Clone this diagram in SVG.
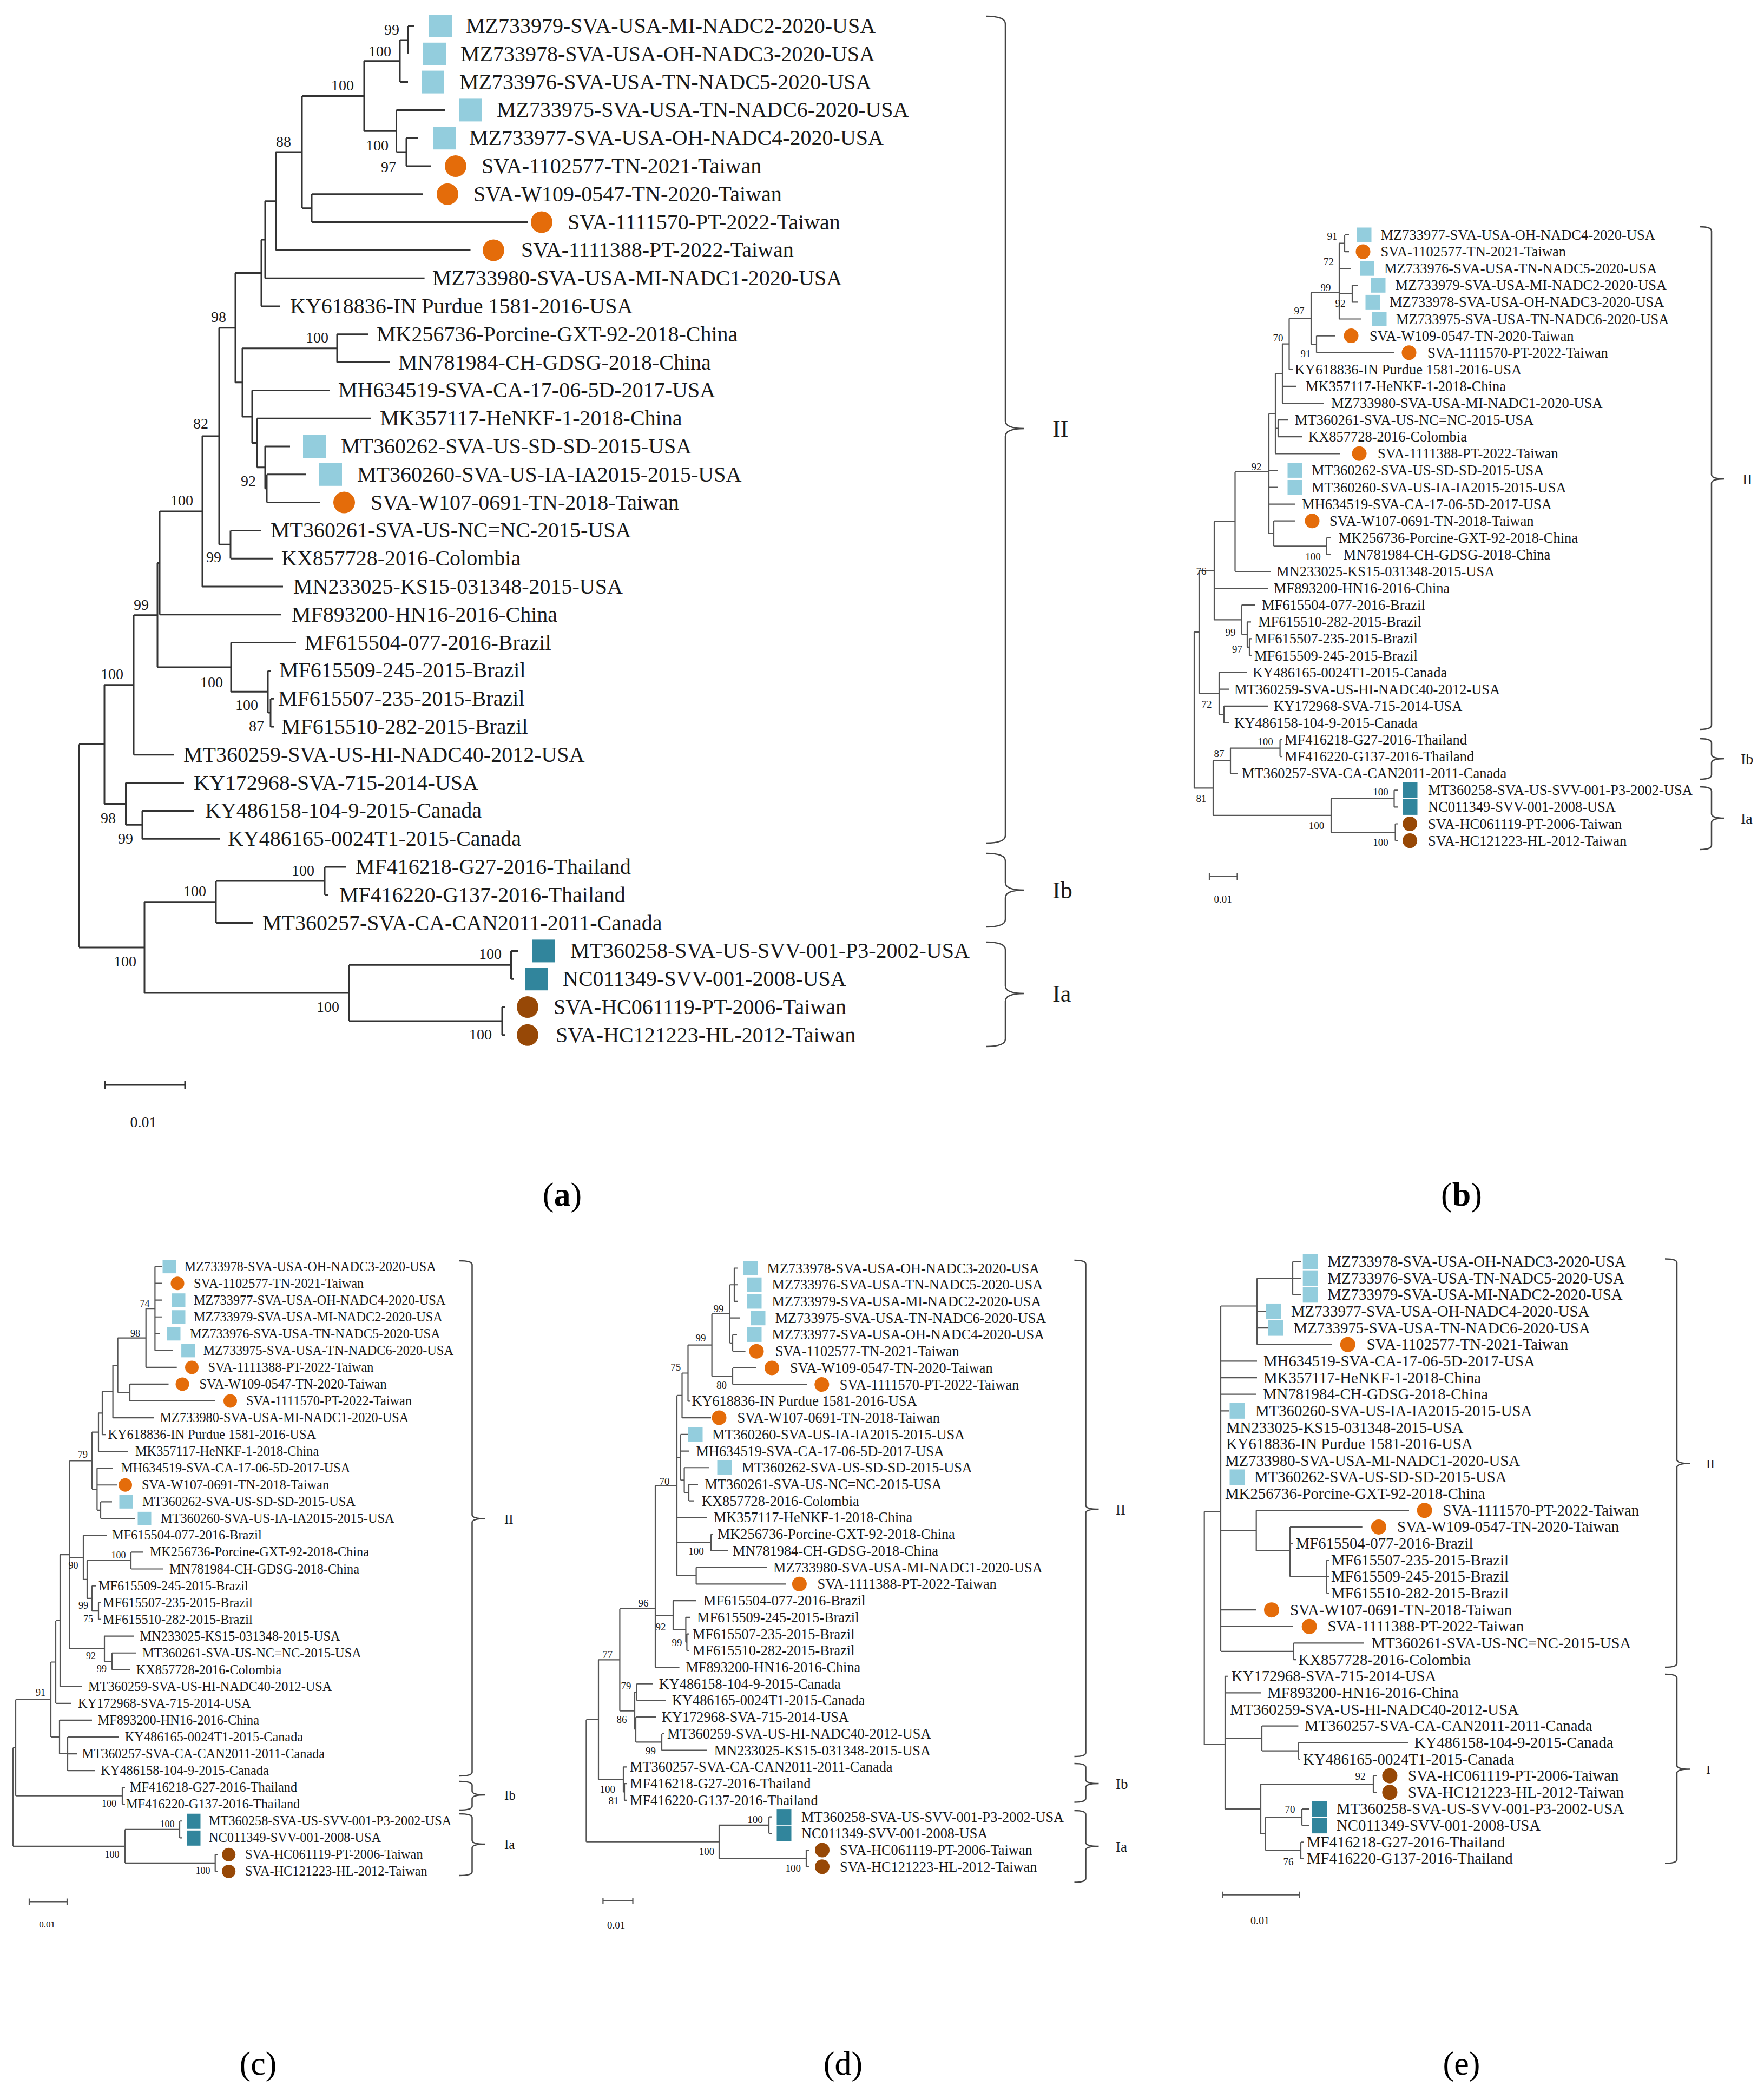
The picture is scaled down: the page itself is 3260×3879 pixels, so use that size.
<svg xmlns="http://www.w3.org/2000/svg" width="3260" height="3879" viewBox="0 0 3260 3879">
<style>
.br{fill:none;stroke:#333;stroke-width:3}
.br2{fill:none;stroke:#555;stroke-width:2.2}
.brk{fill:none;stroke:#444;stroke-width:2.5}
text{font-family:"Liberation Serif","Times New Roman",serif;fill:#1a1a1a}
.a{font-size:40px}.b{font-size:26.5px}.c{font-size:24.3px}.d{font-size:26.3px}.e{font-size:28.8px}
.bs{fill:#444;text-anchor:middle}
.bsa{font-size:28px}.bsb{font-size:19px}.bsc{font-size:18px}
.sq{fill:#93CDDD}.ci{fill:#E46C0A}.dsq{fill:#31859C}.dci{fill:#974806}
.pl{font-size:62px;text-anchor:middle;fill:#000}
</style>
<rect width="3260" height="3879" fill="#fff"/>

<!-- ===== connectors ===== -->
<g id="connectors">
<path id="a-edges" class="br" d="M754,48V99.8 M739,73.9V151.6 M751,255.2V307 M732.5,203.4V281.1 M673,112.75V242.25 M576,358.8V410.6 M558,177.5V384.7 M509.5,281.1V462.4 M490,371.75V514.2 M483,443V566 M623,617.8V669.6 M493,876.8V928.6 M490,825V902.7 M475,773.2V863.85 M466,721.4V818.5 M448,643.7V770 M435,504.5V706.85 M426,980.4V1032.2 M405,605.7V1006.3 M374,806V1084 M295,945V1135.8 M500,1291.2V1343 M495,1239.4V1317.1 M427,1187.6V1278.25 M291,1040.4V1232.9 M247,1136.65V1394.8 M263,1498.4V1550.2 M232.5,1446.6V1524.3 M193,1265.7V1485.45 M600,1602V1653.8 M399,1627.9V1705.6 M944.5,1757.4V1809.2 M928,1861V1912.8 M645,1783.3V1886.9 M267,1666.75V1835.1 M146,1375.6V1750.9
M754,48H766 M739,73.9H754 M739,151.6H754 M751,255.2H772 M751,307H797 M732.5,203.4H823 M732.5,281.1H751 M673,112.75H739 M673,242.25H732.5 M576,358.8H782 M576,410.6H975 M558,177.5H673 M558,384.7H576 M509.5,281.1H558 M509.5,462.4H869.5 M490,371.75H509.5 M490,514.2H784.6 M483,443H490 M483,566H518 M623,617.8H680 M623,669.6H720 M493,876.8H566 M493,928.6H591 M490,825H536 M490,902.7H493 M475,773.2H686 M475,863.85H490 M466,721.4H609 M466,818.5H475 M448,643.7H623 M448,770H466 M435,504.5H483 M435,706.85H448 M426,980.4H482 M426,1032.2H505 M405,605.7H435 M405,1006.3H426 M374,806H405 M374,1084H523 M295,945H374 M295,1135.8H520 M500,1291.2H506 M500,1343H506 M495,1239.4H501 M495,1317.1H500 M427,1187.6H547 M427,1278.25H495 M291,1040.4H295 M291,1232.9H427 M247,1136.65H291 M247,1394.8H322 M263,1498.4H359 M263,1550.2H406 M232.5,1446.6H340 M232.5,1524.3H263 M193,1265.7H247 M193,1485.45H232.5 M600,1602H639 M600,1653.8H606 M399,1627.9H600 M399,1705.6H467 M944.5,1757.4H957 M944.5,1809.2H949 M928,1861H933 M928,1912.8H933 M645,1783.3H944.5 M645,1886.9H928 M267,1666.75H399 M267,1835.1H645 M146,1375.6H193 M146,1750.9H267"/>
<path id="b-edges" class="br2" d="M2485,434V465.1 M2499,527.3V558.4 M2475,449.55V589.5 M2433,620.6V651.7 M2423,541V636.15 M2382.5,588.6V682.8 M2370,635.7V745 M2362,776.1V807.2 M2357,690.35V838.3 M2451.5,993.8V1024.9 M2354,962.7V1009.35 M2345,764.3V986 M2282.5,872V1056 M2309,1180.4V1211.5 M2305,1149.3V1195.95 M2294.6,1118.2V1172.6 M2244,964V1145.4 M2262,1304.8V1335.9 M2253,1242.6V1320.35 M2216,1054.7V1281.5 M2365.6,1367V1398.1 M2274,1382.55V1429.2 M2576.5,1460.3V1491.4 M2578.6,1522.5V1553.6 M2460,1475.85V1538.05 M2242,1405.9V1506.95 M2207,1168.1V1456.4
M2485,434H2493 M2485,465.1H2493 M2499,527.3H2510 M2499,558.4H2510 M2475,449.55H2485 M2475,496.2H2497 M2475,542.85H2499 M2475,589.5H2516 M2433,620.6H2467 M2433,651.7H2577 M2423,541H2475 M2423,636.15H2433 M2382.5,588.6H2423 M2382.5,682.8H2390 M2370,635.7H2382.5 M2370,713.9H2396 M2370,745H2447 M2362,776.1H2381 M2362,807.2H2406 M2357,690.35H2370 M2357,791.65H2362 M2357,838.3H2477 M2451.5,993.8H2460 M2451.5,1024.9H2460 M2354,962.7H2393 M2354,1009.35H2451.5 M2345,764.3H2357 M2345,869.4H2362 M2345,900.5H2362 M2345,931.6H2393 M2345,986H2354 M2282.5,872H2345 M2282.5,1056H2349 M2309,1180.4H2313 M2309,1211.5H2313 M2305,1149.3H2312 M2305,1195.95H2309 M2294.6,1118.2H2320 M2294.6,1172.6H2305 M2244,964H2282.5 M2244,1087.1H2343 M2244,1145.4H2294.6 M2262,1304.8H2343 M2262,1335.9H2271 M2253,1242.6H2305 M2253,1273.7H2271 M2253,1320.35H2262 M2216,1054.7H2244 M2216,1281.5H2253 M2365.6,1367H2370 M2365.6,1398.1H2370 M2274,1382.55H2365.6 M2274,1429.2H2287 M2576.5,1460.3H2583 M2576.5,1491.4H2583 M2578.6,1522.5H2584 M2578.6,1553.6H2584 M2460,1475.85H2576.5 M2460,1538.05H2578.6 M2242,1405.9H2274 M2242,1506.95H2460 M2207,1168.1H2216 M2207,1456.4H2242"/>
<path id="c-edges" class="br2" d="M286.4,2340.6V2495.85 M269.7,2418.2V2526.9 M240,2557.95V2589 M217.6,2472.55V2573.5 M208.6,2523V2620.05 M189,2571.5V2651.1 M182,2611.3V2682.15 M186,2775.3V2806.35 M179.4,2713.2V2790.8 M170,2646.7V2752 M242,2868.45V2899.5 M182,2961.6V2992.65 M170,2930.55V2977.1 M161,2884V2953.8 M154,2837.4V2918.9 M207,3054.75V3085.8 M193,3023.7V3070.3 M128.6,2699.35V3047 M111,2873.2V3116.85 M103,2995V3147.9 M125,3210V3272.1 M110,3178.95V3241 M94,3071.5V3210 M226,3303.15V3334.2 M29,3140.75V3318.7 M332,3365.25V3396.3 M397.7,3427.35V3458.4 M231,3380.8V3442.9 M24,3229.7V3411.85
M286.4,2340.6H300 M286.4,2371.65H300 M286.4,2402.7H300 M286.4,2433.75H300 M286.4,2464.8H295.5 M286.4,2495.85H320 M269.7,2418.2H286.4 M269.7,2526.9H326.7 M240,2557.95H311.5 M240,2589H397.7 M217.6,2472.55H269.7 M217.6,2573.5H240 M208.6,2523H217.6 M208.6,2620.05H285 M189,2571.5H208.6 M189,2651.1H196 M182,2611.3H189 M182,2682.15H236 M186,2775.3H207 M186,2806.35H250 M179.4,2713.2H208.6 M179.4,2744.25H217 M179.4,2790.8H186 M170,2646.7H182 M170,2752H179.4 M242,2868.45H264 M242,2899.5H302 M182,2961.6H186 M182,2992.65H186 M170,2930.55H178 M170,2977.1H182 M161,2884H242 M161,2953.8H170 M154,2837.4H198 M154,2918.9H161 M207,3054.75H251.7 M207,3085.8H240 M193,3023.7H247 M193,3070.3H207 M128.6,2699.35H170 M128.6,2878.15H154 M128.6,3047H193 M111,2873.2H128.6 M111,3116.85H151.6 M103,2995H111 M103,3147.9H132 M125,3210H219 M125,3241.05H142.5 M125,3272.1H175 M110,3178.95H170 M110,3241H125 M94,3071.5H103 M94,3210H110 M226,3303.15H231 M226,3334.2H231 M29,3140.75H94 M29,3318.7H226 M332,3365.25H337 M332,3396.3H337 M397.7,3427.35H403 M397.7,3458.4H403 M231,3380.8H332 M231,3442.9H397.7 M24,3229.7H29 M24,3411.85H231"/>
<path id="d-edges" class="br2" d="M1357,2343.5V2404.96 M1354,2466.42V2497.15 M1348.6,2374.23V2481.8 M1354,2527.88V2558.61 M1315.6,2428V2543.25 M1271.5,2485.6V2589.34 M1260.5,2537.5V2620.07 M1273,2742.99V2773.72 M1264.6,2712.26V2758.35 M1257.7,2650.8V2735.3 M1314,2835.18V2865.91 M1286.6,2896.64V2927.37 M1251,2578.8V2912 M1269.4,3019.56V3050.29 M1267.4,2988.83V3034.9 M1244,2958.1V3011.9 M1211,2745.4V3081.02 M1176.4,3111.75V3142.48 M1223,3203.94V3234.67 M1175,3173.21V3219.3 M1173,3127.1V3196.25 M1145.4,2973V3161.7 M1154,3296.13V3326.86 M1152,3265.4V3311.5 M1106,3067.35V3288.45 M1421,3357.59V3388.32 M1490,3419.05V3449.78 M1329,3372.95V3434.4 M1083.4,3177.9V3403.7
M1357,2343.5H1364 M1357,2374.23H1364 M1357,2404.96H1364 M1354,2466.42H1362 M1354,2497.15H1377.6 M1348.6,2374.23H1357 M1348.6,2435.69H1368 M1348.6,2481.8H1354 M1354,2527.88H1398 M1354,2558.61H1492 M1315.6,2428H1348.6 M1315.6,2543.25H1354 M1271.5,2485.6H1315.6 M1271.5,2589.34H1275 M1260.5,2537.5H1271.5 M1260.5,2620.07H1314 M1273,2742.99H1290 M1273,2773.72H1283 M1264.6,2712.26H1310.7 M1264.6,2758.35H1273 M1257.7,2650.8H1271 M1257.7,2681.53H1273 M1257.7,2735.3H1264.6 M1314,2835.18H1318 M1314,2865.91H1345 M1286.6,2896.64H1417.5 M1286.6,2927.37H1452 M1251,2578.8H1260.5 M1251,2693H1257.7 M1251,2804.45H1307 M1251,2850.5H1314 M1251,2912H1286.6 M1269.4,3019.56H1274 M1269.4,3050.29H1274 M1267.4,2988.83H1276 M1267.4,3034.9H1269.4 M1244,2958.1H1286.6 M1244,3011.9H1267.4 M1211,2745.4H1251 M1211,2985H1244 M1211,3081.02H1255.6 M1176.4,3111.75H1207 M1176.4,3142.48H1230 M1223,3203.94H1227 M1223,3234.67H1307 M1175,3173.21H1212 M1175,3219.3H1223 M1173,3127.1H1176.4 M1173,3196.25H1175 M1145.4,2973H1211 M1145.4,3161.7H1173 M1154,3296.13H1158 M1154,3326.86H1158 M1152,3265.4H1158 M1152,3311.5H1154 M1106,3067.35H1145.4 M1106,3288.45H1152 M1421,3357.59H1426 M1421,3388.32H1426 M1490,3419.05H1495 M1490,3449.78H1495 M1329,3372.95H1421 M1329,3434.4H1490 M1083.4,3177.9H1106 M1083.4,3403.7H1329"/>
<path id="e-edges" class="br2" d="M2389,2331.5V2392.8 M2323,2362.15V2484.75 M2256,2413.5V3051.8 M2451.5,2883.2V2944.5 M2384,2821.9V2913.85 M2321.7,2791.25V2866 M2390.6,3036.45V3067.1 M2399.4,3220.35V3251 M2332,3189.7V3235.7 M2538,3281.65V3312.3 M2406,3342.95V3373.6 M2404,3404.25V3434.9 M2338.6,3358.3V3419.6 M2330,3297V3389 M2264,3097.75V3343 M2225.7,2793.6V3224
M2389,2331.5H2405 M2389,2362.15H2405 M2389,2392.8H2405 M2323,2362.15H2389 M2323,2423.45H2340 M2323,2454.1H2344 M2323,2484.75H2462 M2256,2413.5H2323 M2256,2515.4H2323 M2256,2546.05H2323 M2256,2576.7H2321.7 M2256,2607.35H2272 M2451.5,2883.2H2456 M2451.5,2913.85H2456 M2451.5,2944.5H2456 M2384,2821.9H2517.7 M2384,2852.55H2390 M2384,2913.85H2451.5 M2321.7,2791.25H2604 M2321.7,2866H2384 M2256,2828.6H2321.7 M2256,2975.15H2321.7 M2256,3005.8H2389 M2390.6,3036.45H2521 M2390.6,3067.1H2395 M2256,3051.8H2390.6 M2399.4,3220.35H2602 M2399.4,3251H2403 M2332,3189.7H2399.4 M2332,3235.7H2399.4 M2538,3281.65H2544 M2538,3312.3H2544 M2406,3342.95H2420 M2406,3373.6H2420 M2404,3404.25H2409 M2404,3434.9H2409 M2338.6,3358.3H2406 M2338.6,3419.6H2404 M2330,3297H2538 M2330,3389H2338.6 M2264,3097.75H2270 M2264,3128.4H2330 M2264,3212.7H2332 M2264,3343H2330 M2225.7,2793.6H2256 M2225.7,3224H2264"/>
</g>

<!-- ===== panel a nodes ===== -->
<g id="panel-a">
<g id="a1"><rect class="sq" x="793" y="27" width="42" height="42"/><text class="a" x="861" y="61">MZ733979-SVA-USA-MI-NADC2-2020-USA</text></g>
<g id="a2"><rect class="sq" x="782" y="78.8" width="42" height="42"/><text class="a" x="851" y="112.8">MZ733978-SVA-USA-OH-NADC3-2020-USA</text></g>
<g id="a3"><rect class="sq" x="779" y="130.6" width="42" height="42"/><text class="a" x="849" y="164.6">MZ733976-SVA-USA-TN-NADC5-2020-USA</text></g>
<g id="a4"><rect class="sq" x="848" y="182.4" width="42" height="42"/><text class="a" x="918" y="216.4">MZ733975-SVA-USA-TN-NADC6-2020-USA</text></g>
<g id="a5"><rect class="sq" x="800" y="234.2" width="42" height="42"/><text class="a" x="867" y="268.2">MZ733977-SVA-USA-OH-NADC4-2020-USA</text></g>
<g id="a6"><circle class="ci" cx="842" cy="307" r="20"/><text class="a" x="890" y="320">SVA-1102577-TN-2021-Taiwan</text></g>
<g id="a7"><circle class="ci" cx="827" cy="358.8" r="20"/><text class="a" x="875" y="371.8">SVA-W109-0547-TN-2020-Taiwan</text></g>
<g id="a8"><circle class="ci" cx="1001" cy="410.6" r="20"/><text class="a" x="1049" y="423.6">SVA-1111570-PT-2022-Taiwan</text></g>
<g id="a9"><circle class="ci" cx="912" cy="462.4" r="20"/><text class="a" x="963" y="475.4">SVA-1111388-PT-2022-Taiwan</text></g>
<g id="a10"><text class="a" x="799" y="527.2">MZ733980-SVA-USA-MI-NADC1-2020-USA</text></g>
<g id="a11"><text class="a" x="536" y="579">KY618836-IN Purdue 1581-2016-USA</text></g>
<g id="a12"><text class="a" x="696" y="630.8">MK256736-Porcine-GXT-92-2018-China</text></g>
<g id="a13"><text class="a" x="736" y="682.6">MN781984-CH-GDSG-2018-China</text></g>
<g id="a14"><text class="a" x="625" y="734.4">MH634519-SVA-CA-17-06-5D-2017-USA</text></g>
<g id="a15"><text class="a" x="702" y="786.2">MK357117-HeNKF-1-2018-China</text></g>
<g id="a16"><rect class="sq" x="560" y="804" width="42" height="42"/><text class="a" x="630" y="838">MT360262-SVA-US-SD-SD-2015-USA</text></g>
<g id="a17"><rect class="sq" x="590" y="855.8" width="42" height="42"/><text class="a" x="660" y="889.8">MT360260-SVA-US-IA-IA2015-2015-USA</text></g>
<g id="a18"><circle class="ci" cx="636" cy="928.6" r="20"/><text class="a" x="685" y="941.6">SVA-W107-0691-TN-2018-Taiwan</text></g>
<g id="a19"><text class="a" x="500" y="993.4">MT360261-SVA-US-NC=NC-2015-USA</text></g>
<g id="a20"><text class="a" x="520" y="1045.2">KX857728-2016-Colombia</text></g>
<g id="a21"><text class="a" x="542" y="1097">MN233025-KS15-031348-2015-USA</text></g>
<g id="a22"><text class="a" x="539" y="1148.8">MF893200-HN16-2016-China</text></g>
<g id="a23"><text class="a" x="563" y="1200.6">MF615504-077-2016-Brazil</text></g>
<g id="a24"><text class="a" x="516" y="1252.4">MF615509-245-2015-Brazil</text></g>
<g id="a25"><text class="a" x="514" y="1304.2">MF615507-235-2015-Brazil</text></g>
<g id="a26"><text class="a" x="520" y="1356">MF615510-282-2015-Brazil</text></g>
<g id="a27"><text class="a" x="339" y="1407.8">MT360259-SVA-US-HI-NADC40-2012-USA</text></g>
<g id="a28"><text class="a" x="358" y="1459.6">KY172968-SVA-715-2014-USA</text></g>
<g id="a29"><text class="a" x="379" y="1511.4">KY486158-104-9-2015-Canada</text></g>
<g id="a30"><text class="a" x="421" y="1563.2">KY486165-0024T1-2015-Canada</text></g>
<g id="a31"><text class="a" x="657" y="1615">MF416218-G27-2016-Thailand</text></g>
<g id="a32"><text class="a" x="627" y="1666.8">MF416220-G137-2016-Thailand</text></g>
<g id="a33"><text class="a" x="485" y="1718.6">MT360257-SVA-CA-CAN2011-2011-Canada</text></g>
<g id="a34"><rect class="dsq" x="983" y="1736.4" width="42" height="42"/><text class="a" x="1054" y="1770.4">MT360258-SVA-US-SVV-001-P3-2002-USA</text></g>
<g id="a35"><rect class="dsq" x="971" y="1788.2" width="42" height="42"/><text class="a" x="1040" y="1822.2">NC011349-SVV-001-2008-USA</text></g>
<g id="a36"><circle class="dci" cx="975" cy="1861" r="20"/><text class="a" x="1023" y="1874">SVA-HC061119-PT-2006-Taiwan</text></g>
<g id="a37"><circle class="dci" cx="975" cy="1912.8" r="20"/><text class="a" x="1027" y="1925.8">SVA-HC121223-HL-2012-Taiwan</text></g>
<g id="a-boot" class="bs bsa">
<text x="724" y="64">99</text><text x="702" y="104">100</text><text x="633" y="167">100</text><text x="697" y="278">100</text><text x="718" y="318">97</text><text x="524" y="271">88</text><text x="404" y="595">98</text><text x="586" y="633">100</text><text x="459" y="898">92</text><text x="371" y="792">82</text><text x="395" y="1039">99</text><text x="336" y="934">100</text><text x="261" y="1127">99</text><text x="391" y="1270">100</text><text x="456" y="1312">100</text><text x="474" y="1351">87</text><text x="207" y="1255">100</text><text x="200" y="1521">98</text><text x="232" y="1559">99</text><text x="231" y="1786">100</text><text x="360" y="1656">100</text><text x="560" y="1618">100</text><text x="606" y="1870">100</text><text x="906" y="1772">100</text><text x="888" y="1921">100</text>
</g>
<g id="a-clades">
<path class="brk" d="M1822,30 Q1858,30 1858,44 V778 Q1858,792 1893,792 Q1858,792 1858,806 V1544 Q1858,1558 1822,1558"/>
<path class="brk" d="M1822,1577 Q1858,1577 1858,1591 V1631 Q1858,1645 1893,1645 Q1858,1645 1858,1659 V1699 Q1858,1713 1822,1713"/>
<path class="brk" d="M1822,1741 Q1858,1741 1858,1755 V1822 Q1858,1836 1893,1836 Q1858,1836 1858,1850 V1920 Q1858,1934 1822,1934"/>
<text x="1945" y="807" font-size="44">II</text><text x="1945" y="1660" font-size="44">Ib</text><text x="1945" y="1851" font-size="44">Ia</text>
</g>
<g id="a-scale"><path class="br" d="M194,2005H342 M194,1997V2013 M342,1997V2013"/><text x="265" y="2083" font-size="28" text-anchor="middle">0.01</text></g>
<text class="pl" x="1039" y="2228">(<tspan font-weight="bold">a</tspan>)</text>
</g>

<!-- ===== panel b nodes ===== -->
<g id="panel-b">
<g id="b1"><rect class="sq" x="2507.5" y="420.5" width="27" height="27"/><text class="b" x="2551.5" y="443">MZ733977-SVA-USA-OH-NADC4-2020-USA</text></g>
<g id="b2"><circle class="ci" cx="2519" cy="465.1" r="13.5"/><text class="b" x="2551.5" y="474.1">SVA-1102577-TN-2021-Taiwan</text></g>
<g id="b3"><rect class="sq" x="2513" y="482.7" width="27" height="27"/><text class="b" x="2558" y="505.2">MZ733976-SVA-USA-TN-NADC5-2020-USA</text></g>
<g id="b4"><rect class="sq" x="2533.5" y="513.8" width="27" height="27"/><text class="b" x="2578.6" y="536.3">MZ733979-SVA-USA-MI-NADC2-2020-USA</text></g>
<g id="b5"><rect class="sq" x="2523.5" y="544.9" width="27" height="27"/><text class="b" x="2568" y="567.4">MZ733978-SVA-USA-OH-NADC3-2020-USA</text></g>
<g id="b6"><rect class="sq" x="2535.5" y="576" width="27" height="27"/><text class="b" x="2580" y="598.5">MZ733975-SVA-USA-TN-NADC6-2020-USA</text></g>
<g id="b7"><circle class="ci" cx="2497" cy="620.6" r="13.5"/><text class="b" x="2531" y="629.6">SVA-W109-0547-TN-2020-Taiwan</text></g>
<g id="b8"><circle class="ci" cx="2604" cy="651.7" r="13.5"/><text class="b" x="2638" y="660.7">SVA-1111570-PT-2022-Taiwan</text></g>
<g id="b9"><text class="b" x="2392.7" y="691.8">KY618836-IN Purdue 1581-2016-USA</text></g>
<g id="b10"><text class="b" x="2413" y="722.9">MK357117-HeNKF-1-2018-China</text></g>
<g id="b11"><text class="b" x="2460" y="754">MZ733980-SVA-USA-MI-NADC1-2020-USA</text></g>
<g id="b12"><text class="b" x="2393" y="785.1">MT360261-SVA-US-NC=NC-2015-USA</text></g>
<g id="b13"><text class="b" x="2418" y="816.2">KX857728-2016-Colombia</text></g>
<g id="b14"><circle class="ci" cx="2512" cy="838.3" r="13.5"/><text class="b" x="2546" y="847.3">SVA-1111388-PT-2022-Taiwan</text></g>
<g id="b15"><rect class="sq" x="2379.5" y="855.9" width="27" height="27"/><text class="b" x="2424" y="878.4">MT360262-SVA-US-SD-SD-2015-USA</text></g>
<g id="b16"><rect class="sq" x="2379.5" y="887" width="27" height="27"/><text class="b" x="2424" y="909.5">MT360260-SVA-US-IA-IA2015-2015-USA</text></g>
<g id="b17"><text class="b" x="2406" y="940.6">MH634519-SVA-CA-17-06-5D-2017-USA</text></g>
<g id="b18"><circle class="ci" cx="2425" cy="962.7" r="13.5"/><text class="b" x="2457" y="971.7">SVA-W107-0691-TN-2018-Taiwan</text></g>
<g id="b19"><text class="b" x="2474" y="1002.8">MK256736-Porcine-GXT-92-2018-China</text></g>
<g id="b20"><text class="b" x="2482.6" y="1033.9">MN781984-CH-GDSG-2018-China</text></g>
<g id="b21"><text class="b" x="2359" y="1065">MN233025-KS15-031348-2015-USA</text></g>
<g id="b22"><text class="b" x="2354" y="1096.1">MF893200-HN16-2016-China</text></g>
<g id="b23"><text class="b" x="2332" y="1127.2">MF615504-077-2016-Brazil</text></g>
<g id="b24"><text class="b" x="2325" y="1158.3">MF615510-282-2015-Brazil</text></g>
<g id="b25"><text class="b" x="2318" y="1189.4">MF615507-235-2015-Brazil</text></g>
<g id="b26"><text class="b" x="2318" y="1220.5">MF615509-245-2015-Brazil</text></g>
<g id="b27"><text class="b" x="2315" y="1251.6">KY486165-0024T1-2015-Canada</text></g>
<g id="b28"><text class="b" x="2281" y="1282.7">MT360259-SVA-US-HI-NADC40-2012-USA</text></g>
<g id="b29"><text class="b" x="2354" y="1313.8">KY172968-SVA-715-2014-USA</text></g>
<g id="b30"><text class="b" x="2281" y="1344.9">KY486158-104-9-2015-Canada</text></g>
<g id="b31"><text class="b" x="2374" y="1376">MF416218-G27-2016-Thailand</text></g>
<g id="b32"><text class="b" x="2374" y="1407.1">MF416220-G137-2016-Thailand</text></g>
<g id="b33"><text class="b" x="2295" y="1438.2">MT360257-SVA-CA-CAN2011-2011-Canada</text></g>
<g id="b34"><rect class="dsq" x="2592.5" y="1445.8" width="27" height="29"/><text class="b" x="2639" y="1469.3">MT360258-SVA-US-SVV-001-P3-2002-USA</text></g>
<g id="b35"><rect class="dsq" x="2592.5" y="1476.9" width="27" height="29"/><text class="b" x="2639" y="1500.4">NC011349-SVV-001-2008-USA</text></g>
<g id="b36"><circle class="dci" cx="2605.6" cy="1522.5" r="13.5"/><text class="b" x="2639" y="1531.5">SVA-HC061119-PT-2006-Taiwan</text></g>
<g id="b37"><circle class="dci" cx="2605.6" cy="1553.6" r="13.5"/><text class="b" x="2639" y="1562.6">SVA-HC121223-HL-2012-Taiwan</text></g>
<g id="b-boot" class="bs bsb">
<text x="2462" y="443">91</text><text x="2455.5" y="490">72</text><text x="2477" y="567">92</text><text x="2450" y="537.6">99</text><text x="2401" y="581">97</text><text x="2413" y="660">91</text><text x="2362" y="631">70</text><text x="2322" y="869">92</text><text x="2426.5" y="1035">100</text><text x="2220" y="1062">76</text><text x="2274" y="1175">99</text><text x="2286.5" y="1206">97</text><text x="2230" y="1308">72</text><text x="2253" y="1399">87</text><text x="2338.6" y="1377">100</text><text x="2433" y="1531.6">100</text><text x="2551.5" y="1469.5">100</text><text x="2551.5" y="1562.7">100</text><text x="2220" y="1482">81</text>
</g>
<g id="b-clades">
<path class="brk" d="M3141,419 Q3163,419 3163,427 V877 Q3163,885 3187,885 Q3163,885 3163,893 V1340 Q3163,1348 3141,1348"/>
<path class="brk" d="M3141,1365 Q3163,1365 3163,1373 V1394 Q3163,1402 3187,1402 Q3163,1402 3163,1410 V1432 Q3163,1440 3141,1440"/>
<path class="brk" d="M3141,1454 Q3163,1454 3163,1462 V1504 Q3163,1512 3187,1512 Q3163,1512 3163,1520 V1562 Q3163,1570 3141,1570"/>
<text x="3220" y="895" font-size="28">II</text><text x="3217" y="1412" font-size="28">Ib</text><text x="3217" y="1522" font-size="28">Ia</text>
</g>
<g id="b-scale"><path class="br2" d="M2235,1620H2286.5 M2235,1614V1626 M2286.5,1614V1626"/><text x="2260" y="1668" font-size="19" text-anchor="middle">0.01</text></g>
<text class="pl" x="2701" y="2228">(<tspan font-weight="bold">b</tspan>)</text>
</g>

<!-- ===== panel c nodes ===== -->
<g id="panel-c">
<g id="c1"><rect class="sq" x="300.5" y="2328.1" width="25" height="25"/><text class="c" x="340.6" y="2348.6">MZ733978-SVA-USA-OH-NADC3-2020-USA</text></g>
<g id="c2"><circle class="ci" cx="328" cy="2371.65" r="12.5"/><text class="c" x="358" y="2379.65">SVA-1102577-TN-2021-Taiwan</text></g>
<g id="c3"><rect class="sq" x="317.5" y="2390.2" width="25" height="25"/><text class="c" x="358" y="2410.7">MZ733977-SVA-USA-OH-NADC4-2020-USA</text></g>
<g id="c4"><rect class="sq" x="317.5" y="2421.25" width="25" height="25"/><text class="c" x="358" y="2441.75">MZ733979-SVA-USA-MI-NADC2-2020-USA</text></g>
<g id="c5"><rect class="sq" x="308.5" y="2452.3" width="25" height="25"/><text class="c" x="351" y="2472.8">MZ733976-SVA-USA-TN-NADC5-2020-USA</text></g>
<g id="c6"><rect class="sq" x="335.1" y="2483.35" width="25" height="25"/><text class="c" x="375.4" y="2503.85">MZ733975-SVA-USA-TN-NADC6-2020-USA</text></g>
<g id="c7"><circle class="ci" cx="354.5" cy="2526.9" r="12.5"/><text class="c" x="384.4" y="2534.9">SVA-1111388-PT-2022-Taiwan</text></g>
<g id="c8"><circle class="ci" cx="337" cy="2557.95" r="12.5"/><text class="c" x="368.5" y="2565.95">SVA-W109-0547-TN-2020-Taiwan</text></g>
<g id="c9"><circle class="ci" cx="425.5" cy="2589" r="12.5"/><text class="c" x="455" y="2597">SVA-1111570-PT-2022-Taiwan</text></g>
<g id="c10"><text class="c" x="295.5" y="2628.05">MZ733980-SVA-USA-MI-NADC1-2020-USA</text></g>
<g id="c11"><text class="c" x="199.5" y="2659.1">KY618836-IN Purdue 1581-2016-USA</text></g>
<g id="c12"><text class="c" x="250" y="2690.15">MK357117-HeNKF-1-2018-China</text></g>
<g id="c13"><text class="c" x="224" y="2721.2">MH634519-SVA-CA-17-06-5D-2017-USA</text></g>
<g id="c14"><circle class="ci" cx="231.5" cy="2744.25" r="12.5"/><text class="c" x="262" y="2752.25">SVA-W107-0691-TN-2018-Taiwan</text></g>
<g id="c15"><rect class="sq" x="220.5" y="2762.8" width="25" height="25"/><text class="c" x="263" y="2783.3">MT360262-SVA-US-SD-SD-2015-USA</text></g>
<g id="c16"><rect class="sq" x="254.5" y="2793.85" width="25" height="25"/><text class="c" x="297" y="2814.35">MT360260-SVA-US-IA-IA2015-2015-USA</text></g>
<g id="c17"><text class="c" x="207" y="2845.4">MF615504-077-2016-Brazil</text></g>
<g id="c18"><text class="c" x="276.7" y="2876.45">MK256736-Porcine-GXT-92-2018-China</text></g>
<g id="c19"><text class="c" x="313" y="2907.5">MN781984-CH-GDSG-2018-China</text></g>
<g id="c20"><text class="c" x="182" y="2938.55">MF615509-245-2015-Brazil</text></g>
<g id="c21"><text class="c" x="190" y="2969.6">MF615507-235-2015-Brazil</text></g>
<g id="c22"><text class="c" x="190" y="3000.65">MF615510-282-2015-Brazil</text></g>
<g id="c23"><text class="c" x="258.6" y="3031.7">MN233025-KS15-031348-2015-USA</text></g>
<g id="c24"><text class="c" x="263" y="3062.75">MT360261-SVA-US-NC=NC-2015-USA</text></g>
<g id="c25"><text class="c" x="251.7" y="3093.8">KX857728-2016-Colombia</text></g>
<g id="c26"><text class="c" x="163" y="3124.85">MT360259-SVA-US-HI-NADC40-2012-USA</text></g>
<g id="c27"><text class="c" x="144" y="3155.9">KY172968-SVA-715-2014-USA</text></g>
<g id="c28"><text class="c" x="180.7" y="3186.95">MF893200-HN16-2016-China</text></g>
<g id="c29"><text class="c" x="230.8" y="3218">KY486165-0024T1-2015-Canada</text></g>
<g id="c30"><text class="c" x="151.6" y="3249.05">MT360257-SVA-CA-CAN2011-2011-Canada</text></g>
<g id="c31"><text class="c" x="186.3" y="3280.1">KY486158-104-9-2015-Canada</text></g>
<g id="c32"><text class="c" x="240" y="3311.15">MF416218-G27-2016-Thailand</text></g>
<g id="c33"><text class="c" x="233" y="3342.2">MF416220-G137-2016-Thailand</text></g>
<g id="c34"><rect class="dsq" x="345.5" y="3351.75" width="25" height="28"/><text class="c" x="386" y="3373.25">MT360258-SVA-US-SVV-001-P3-2002-USA</text></g>
<g id="c35"><rect class="dsq" x="345.5" y="3382.8" width="25" height="28"/><text class="c" x="386" y="3404.3">NC011349-SVV-001-2008-USA</text></g>
<g id="c36"><circle class="dci" cx="422.7" cy="3427.35" r="12.5"/><text class="c" x="453" y="3435.35">SVA-HC061119-PT-2006-Taiwan</text></g>
<g id="c37"><circle class="dci" cx="422.7" cy="3458.4" r="12.5"/><text class="c" x="453" y="3466.4">SVA-HC121223-HL-2012-Taiwan</text></g>
<g id="c-boot" class="bs bsc">
<text x="267.6" y="2414.6">74</text><text x="250" y="2469.7">98</text><text x="153" y="2693.6">79</text><text x="219" y="2880">100</text><text x="135.6" y="2898.7">90</text><text x="154" y="2972.6">99</text><text x="163" y="2997.5">75</text><text x="168" y="3066">92</text><text x="188" y="3089.5">99</text><text x="75" y="3134">91</text><text x="201.6" y="3339">100</text><text x="207" y="3432.7">100</text><text x="309" y="3376.7">100</text><text x="375" y="3462.5">100</text>
</g>
<g id="c-clades">
<path class="brk" d="M848.5,2330 Q872.5,2330 872.5,2337 V2799.5 Q872.5,2806.5 896.5,2806.5 Q872.5,2806.5 872.5,2813.5 V3275 Q872.5,3282 848.5,3282"/>
<path class="brk" d="M848.5,3292 Q872.5,3292 872.5,3299 V3310 Q872.5,3317 896.5,3317 Q872.5,3317 872.5,3324 V3338 Q872.5,3345 848.5,3345"/>
<path class="brk" d="M848.5,3352 Q872.5,3352 872.5,3359 V3401 Q872.5,3408 896.5,3408 Q872.5,3408 872.5,3415 V3459 Q872.5,3466 848.5,3466"/>
<text x="932" y="2815.5" font-size="25">II</text><text x="932" y="3326" font-size="25">Ib</text><text x="932" y="3417" font-size="25">Ia</text>
</g>
<g id="c-scale"><path class="br2" d="M54,3514.5H124 M54,3508.5V3520.5 M124,3508.5V3520.5"/><text x="87" y="3562" font-size="17" text-anchor="middle">0.01</text></g>
<text class="pl" x="477" y="3834">(c)</text>
</g>

<!-- ===== panel d nodes ===== -->
<g id="panel-d">
<g id="d1"><rect class="sq" x="1373" y="2330" width="27" height="27"/><text class="d" x="1417.5" y="2352.5">MZ733978-SVA-USA-OH-NADC3-2020-USA</text></g>
<g id="d2"><rect class="sq" x="1380.5" y="2360.73" width="27" height="27"/><text class="d" x="1426.5" y="2383.23">MZ733976-SVA-USA-TN-NADC5-2020-USA</text></g>
<g id="d3"><rect class="sq" x="1380.5" y="2391.46" width="27" height="27"/><text class="d" x="1426.5" y="2413.96">MZ733979-SVA-USA-MI-NADC2-2020-USA</text></g>
<g id="d4"><rect class="sq" x="1387.5" y="2422.19" width="27" height="27"/><text class="d" x="1432.7" y="2444.69">MZ733975-SVA-USA-TN-NADC6-2020-USA</text></g>
<g id="d5"><rect class="sq" x="1380.5" y="2452.92" width="27" height="27"/><text class="d" x="1426.5" y="2475.42">MZ733977-SVA-USA-OH-NADC4-2020-USA</text></g>
<g id="d6"><circle class="ci" cx="1398" cy="2497.15" r="13.5"/><text class="d" x="1432.7" y="2506.15">SVA-1102577-TN-2021-Taiwan</text></g>
<g id="d7"><circle class="ci" cx="1426.5" cy="2527.88" r="13.5"/><text class="d" x="1460" y="2536.88">SVA-W109-0547-TN-2020-Taiwan</text></g>
<g id="d8"><circle class="ci" cx="1518.8" cy="2558.61" r="13.5"/><text class="d" x="1551.8" y="2567.61">SVA-1111570-PT-2022-Taiwan</text></g>
<g id="d9"><text class="d" x="1278.4" y="2598.34">KY618836-IN Purdue 1581-2016-USA</text></g>
<g id="d10"><circle class="ci" cx="1329" cy="2620.07" r="13.5"/><text class="d" x="1362.4" y="2629.07">SVA-W107-0691-TN-2018-Taiwan</text></g>
<g id="d11"><rect class="sq" x="1271.5" y="2637.3" width="27" height="27"/><text class="d" x="1316" y="2659.8">MT360260-SVA-US-IA-IA2015-2015-USA</text></g>
<g id="d12"><text class="d" x="1286.6" y="2690.53">MH634519-SVA-CA-17-06-5D-2017-USA</text></g>
<g id="d13"><rect class="sq" x="1325.5" y="2698.76" width="27" height="27"/><text class="d" x="1370.7" y="2721.26">MT360262-SVA-US-SD-SD-2015-USA</text></g>
<g id="d14"><text class="d" x="1302.5" y="2751.99">MT360261-SVA-US-NC=NC-2015-USA</text></g>
<g id="d15"><text class="d" x="1297" y="2782.72">KX857728-2016-Colombia</text></g>
<g id="d16"><text class="d" x="1319" y="2813.45">MK357117-HeNKF-1-2018-China</text></g>
<g id="d17"><text class="d" x="1326" y="2844.18">MK256736-Porcine-GXT-92-2018-China</text></g>
<g id="d18"><text class="d" x="1354" y="2874.91">MN781984-CH-GDSG-2018-China</text></g>
<g id="d19"><text class="d" x="1429" y="2905.64">MZ733980-SVA-USA-MI-NADC1-2020-USA</text></g>
<g id="d20"><circle class="ci" cx="1477.4" cy="2927.37" r="13.5"/><text class="d" x="1510.5" y="2936.37">SVA-1111388-PT-2022-Taiwan</text></g>
<g id="d21"><text class="d" x="1300" y="2967.1">MF615504-077-2016-Brazil</text></g>
<g id="d22"><text class="d" x="1288" y="2997.83">MF615509-245-2015-Brazil</text></g>
<g id="d23"><text class="d" x="1280" y="3028.56">MF615507-235-2015-Brazil</text></g>
<g id="d24"><text class="d" x="1280" y="3059.29">MF615510-282-2015-Brazil</text></g>
<g id="d25"><text class="d" x="1267.4" y="3090.02">MF893200-HN16-2016-China</text></g>
<g id="d26"><text class="d" x="1217.8" y="3120.75">KY486158-104-9-2015-Canada</text></g>
<g id="d27"><text class="d" x="1242" y="3151.48">KY486165-0024T1-2015-Canada</text></g>
<g id="d28"><text class="d" x="1223" y="3182.21">KY172968-SVA-715-2014-USA</text></g>
<g id="d29"><text class="d" x="1233" y="3212.94">MT360259-SVA-US-HI-NADC40-2012-USA</text></g>
<g id="d30"><text class="d" x="1319.7" y="3243.67">MN233025-KS15-031348-2015-USA</text></g>
<g id="d31"><text class="d" x="1164" y="3274.4">MT360257-SVA-CA-CAN2011-2011-Canada</text></g>
<g id="d32"><text class="d" x="1164" y="3305.13">MF416218-G27-2016-Thailand</text></g>
<g id="d33"><text class="d" x="1164" y="3335.86">MF416220-G137-2016-Thailand</text></g>
<g id="d34"><rect class="dsq" x="1435.5" y="3343.09" width="27" height="29"/><text class="d" x="1481" y="3366.59">MT360258-SVA-US-SVV-001-P3-2002-USA</text></g>
<g id="d35"><rect class="dsq" x="1435.5" y="3373.82" width="27" height="29"/><text class="d" x="1481" y="3397.32">NC011349-SVV-001-2008-USA</text></g>
<g id="d36"><circle class="dci" cx="1519.5" cy="3419.05" r="13.5"/><text class="d" x="1552" y="3428.05">SVA-HC061119-PT-2006-Taiwan</text></g>
<g id="d37"><circle class="dci" cx="1519.5" cy="3449.78" r="13.5"/><text class="d" x="1552" y="3458.78">SVA-HC121223-HL-2012-Taiwan</text></g>
<g id="d-boot" class="bs bsb">
<text x="1328" y="2425">99</text><text x="1333.5" y="2566">80</text><text x="1295" y="2479">99</text><text x="1248.8" y="2533">75</text><text x="1228" y="2744">70</text><text x="1286.6" y="2873">100</text><text x="1189" y="2969">96</text><text x="1221" y="3013">92</text><text x="1251" y="3042">99</text><text x="1122.7" y="3064">77</text><text x="1157" y="3122">79</text><text x="1149" y="3184">86</text><text x="1202.6" y="3242">99</text><text x="1122.7" y="3312.6">100</text><text x="1134" y="3334">81</text><text x="1306" y="3427.5">100</text><text x="1395.5" y="3369.4">100</text><text x="1465.7" y="3458.6">100</text>
</g>
<g id="d-clades">
<path class="brk" d="M1985.5,2329 Q2006.5,2329 2006.5,2336 V2782 Q2006.5,2789 2030.5,2789 Q2006.5,2789 2006.5,2796 V3239 Q2006.5,3246 1985.5,3246"/>
<path class="brk" d="M1985.5,3259 Q2006.5,3259 2006.5,3266 V3289 Q2006.5,3296 2030.5,3296 Q2006.5,3296 2006.5,3303 V3323.5 Q2006.5,3330.5 1985.5,3330.5"/>
<path class="brk" d="M1985.5,3346 Q2006.5,3346 2006.5,3353 V3405 Q2006.5,3412 2030.5,3412 Q2006.5,3412 2006.5,3419 V3471.5 Q2006.5,3478.5 1985.5,3478.5"/>
<text x="2062" y="2798.5" font-size="27">II</text><text x="2062" y="3305.5" font-size="27">Ib</text><text x="2062" y="3421.5" font-size="27">Ia</text>
</g>
<g id="d-scale"><path class="br2" d="M1114.4,3513H1169.5 M1114.4,3507V3519 M1169.5,3507V3519"/><text x="1138.5" y="3564" font-size="19" text-anchor="middle">0.01</text></g>
<text class="pl" x="1558" y="3834">(d)</text>
</g>

<!-- ===== panel e nodes ===== -->
<g id="panel-e">
<g id="e1"><rect class="sq" x="2407.7" y="2317" width="28" height="29"/><text class="e" x="2453.5" y="2341">MZ733978-SVA-USA-OH-NADC3-2020-USA</text></g>
<g id="e2"><rect class="sq" x="2407.7" y="2347.65" width="28" height="29"/><text class="e" x="2453.5" y="2371.65">MZ733976-SVA-USA-TN-NADC5-2020-USA</text></g>
<g id="e3"><rect class="sq" x="2407.7" y="2378.3" width="28" height="29"/><text class="e" x="2453.5" y="2402.3">MZ733979-SVA-USA-MI-NADC2-2020-USA</text></g>
<g id="e4"><rect class="sq" x="2340" y="2408.95" width="28" height="29"/><text class="e" x="2386" y="2432.95">MZ733977-SVA-USA-OH-NADC4-2020-USA</text></g>
<g id="e5"><rect class="sq" x="2344" y="2439.6" width="28" height="29"/><text class="e" x="2390.6" y="2463.6">MZ733975-SVA-USA-TN-NADC6-2020-USA</text></g>
<g id="e6"><circle class="ci" cx="2490.7" cy="2484.75" r="14"/><text class="e" x="2525.8" y="2494.25">SVA-1102577-TN-2021-Taiwan</text></g>
<g id="e7"><text class="e" x="2335" y="2524.9">MH634519-SVA-CA-17-06-5D-2017-USA</text></g>
<g id="e8"><text class="e" x="2335" y="2555.55">MK357117-HeNKF-1-2018-China</text></g>
<g id="e9"><text class="e" x="2334" y="2586.2">MN781984-CH-GDSG-2018-China</text></g>
<g id="e10"><rect class="sq" x="2272.5" y="2592.85" width="28" height="29"/><text class="e" x="2320" y="2616.85">MT360260-SVA-US-IA-IA2015-2015-USA</text></g>
<g id="e11"><text class="e" x="2266" y="2647.5">MN233025-KS15-031348-2015-USA</text></g>
<g id="e12"><text class="e" x="2266" y="2678.15">KY618836-IN Purdue 1581-2016-USA</text></g>
<g id="e13"><text class="e" x="2264" y="2708.8">MZ733980-SVA-USA-MI-NADC1-2020-USA</text></g>
<g id="e14"><rect class="sq" x="2272.5" y="2715.45" width="28" height="29"/><text class="e" x="2318" y="2739.45">MT360262-SVA-US-SD-SD-2015-USA</text></g>
<g id="e15"><text class="e" x="2264" y="2770.1">MK256736-Porcine-GXT-92-2018-China</text></g>
<g id="e16"><circle class="ci" cx="2632.6" cy="2791.25" r="14"/><text class="e" x="2666.4" y="2800.75">SVA-1111570-PT-2022-Taiwan</text></g>
<g id="e17"><circle class="ci" cx="2548" cy="2821.9" r="14"/><text class="e" x="2582" y="2831.4">SVA-W109-0547-TN-2020-Taiwan</text></g>
<g id="e18"><text class="e" x="2394.7" y="2862.05">MF615504-077-2016-Brazil</text></g>
<g id="e19"><text class="e" x="2460" y="2892.7">MF615507-235-2015-Brazil</text></g>
<g id="e20"><text class="e" x="2460" y="2923.35">MF615509-245-2015-Brazil</text></g>
<g id="e21"><text class="e" x="2460" y="2954">MF615510-282-2015-Brazil</text></g>
<g id="e22"><circle class="ci" cx="2350" cy="2975.15" r="14"/><text class="e" x="2384" y="2984.65">SVA-W107-0691-TN-2018-Taiwan</text></g>
<g id="e23"><circle class="ci" cx="2419.7" cy="3005.8" r="14"/><text class="e" x="2453.5" y="3015.3">SVA-1111388-PT-2022-Taiwan</text></g>
<g id="e24"><text class="e" x="2534.6" y="3045.95">MT360261-SVA-US-NC=NC-2015-USA</text></g>
<g id="e25"><text class="e" x="2399.4" y="3076.6">KX857728-2016-Colombia</text></g>
<g id="e26"><text class="e" x="2275.7" y="3107.25">KY172968-SVA-715-2014-USA</text></g>
<g id="e27"><text class="e" x="2342" y="3137.9">MF893200-HN16-2016-China</text></g>
<g id="e28"><text class="e" x="2273" y="3168.55">MT360259-SVA-US-HI-NADC40-2012-USA</text></g>
<g id="e29"><text class="e" x="2411" y="3199.2">MT360257-SVA-CA-CAN2011-2011-Canada</text></g>
<g id="e30"><text class="e" x="2613.7" y="3229.85">KY486158-104-9-2015-Canada</text></g>
<g id="e31"><text class="e" x="2408" y="3260.5">KY486165-0024T1-2015-Canada</text></g>
<g id="e32"><circle class="dci" cx="2568.4" cy="3281.65" r="14"/><text class="e" x="2602" y="3291.15">SVA-HC061119-PT-2006-Taiwan</text></g>
<g id="e33"><circle class="dci" cx="2568.4" cy="3312.3" r="14"/><text class="e" x="2602" y="3321.8">SVA-HC121223-HL-2012-Taiwan</text></g>
<g id="e34"><rect class="dsq" x="2424" y="3328.45" width="28" height="29"/><text class="e" x="2470" y="3352.45">MT360258-SVA-US-SVV-001-P3-2002-USA</text></g>
<g id="e35"><rect class="dsq" x="2424" y="3359.1" width="28" height="29"/><text class="e" x="2470" y="3383.1">NC011349-SVV-001-2008-USA</text></g>
<g id="e36"><text class="e" x="2415" y="3413.75">MF416218-G27-2016-Thailand</text></g>
<g id="e37"><text class="e" x="2415" y="3444.4">MF416220-G137-2016-Thailand</text></g>
<g id="e-boot" class="bs bsb">
<text x="2514" y="3289">92</text><text x="2384" y="3350">70</text><text x="2381" y="3446.5">76</text>
</g>
<g id="e-clades">
<path class="brk" d="M3077,2326.5 Q3099,2326.5 3099,2333.5 V2697.5 Q3099,2704.5 3123,2704.5 Q3099,2704.5 3099,2711.5 V3074 Q3099,3081 3077,3081"/>
<path class="brk" d="M3077,3094 Q3099,3094 3099,3101 V3262.5 Q3099,3269.5 3123,3269.5 Q3099,3269.5 3099,3276.5 V3436.6 Q3099,3443.6 3077,3443.6"/>
<text x="3153" y="2713" font-size="24">II</text><text x="3153" y="3278" font-size="24">I</text>
</g>
<g id="e-scale"><path class="br2" d="M2259.5,3501.7H2401.4 M2259.5,3495.7V3507.7 M2401.4,3495.7V3507.7"/><text x="2328.4" y="3556" font-size="20" text-anchor="middle">0.01</text></g>
<text class="pl" x="2701" y="3834">(e)</text>
</g>
</svg>
